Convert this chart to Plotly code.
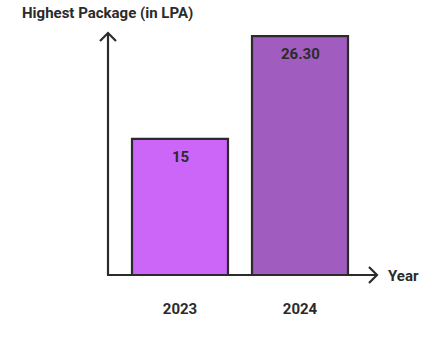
import plotly.graph_objects as go

years = ["2023", "2024"]
packages = [15, 26.30]
labels = ["15", "26.30"]
colors = ["#CB66F9", "#A05DBF"]

W, H = 444, 342
L, R, T, B = 108, 67, 32, 67
pw, ph = W - L - R, H - T - B
px_per_cat = 120
x0 = -0.6
ymax = ph / 9.08

dark = "#2B2B2B"
FONT = "Roboto"
FS = 15

fig = go.Figure()
fig.add_trace(go.Bar(
    x=years, y=packages, width=0.8,
    marker=dict(color=colors, line=dict(color=dark, width=2.2)),
    hoverinfo="skip",
))

for i, (v, lab) in enumerate(zip(packages, labels)):
    fig.add_annotation(x=i, y=v, text=f"<b>{lab}</b>", showarrow=False,
                       yshift=-18, font=dict(family=FONT, size=FS, color=dark))

def px(x): return (x - L) / pw
def py(y): return (H - B - y) / ph

line = dict(color=dark, width=2.2)
fig.add_shape(type="line", xref="paper", yref="paper", x0=px(108), y0=py(275), x1=px(108), y1=py(33), line=line)
fig.add_shape(type="path", xref="paper", yref="paper",
              path=f"M {px(100)},{py(41)} L {px(108)},{py(33)} L {px(116)},{py(41)}", line=line)
fig.add_shape(type="line", xref="paper", yref="paper", x0=px(107), y0=py(275), x1=px(377), y1=py(275), line=line)
fig.add_shape(type="path", xref="paper", yref="paper",
              path=f"M {px(369)},{py(267)} L {px(377)},{py(275)} L {px(369)},{py(283)}", line=line)

fig.add_annotation(xref="paper", yref="paper", x=px(20), y=py(13), xanchor="left", yanchor="middle",
                   text="<b>Highest Package (in LPA)</b>", showarrow=False,
                   font=dict(family=FONT, size=FS, color=dark))
fig.add_annotation(xref="paper", yref="paper", x=px(386), y=py(276), xanchor="left", yanchor="middle",
                   text="<b>Year</b>", showarrow=False,
                   font=dict(family=FONT, size=FS, color=dark))

fig.update_layout(
    width=W, height=H,
    margin=dict(l=L, r=R, t=T, b=B, pad=0),
    paper_bgcolor="white", plot_bgcolor="white",
    showlegend=False,
    xaxis=dict(range=[x0, x0 + pw / px_per_cat], type="category", showgrid=False, zeroline=False,
               showline=False, ticks="outside", ticklen=20, tickcolor="rgba(0,0,0,0)",
               tickfont=dict(family=FONT, size=FS, color=dark, weight="bold"), fixedrange=True),
    yaxis=dict(range=[0, ymax], showgrid=False, zeroline=False, showline=False,
               showticklabels=False, fixedrange=True),
)

fig.write_html("out.html", config={"displayModeBar": False})
